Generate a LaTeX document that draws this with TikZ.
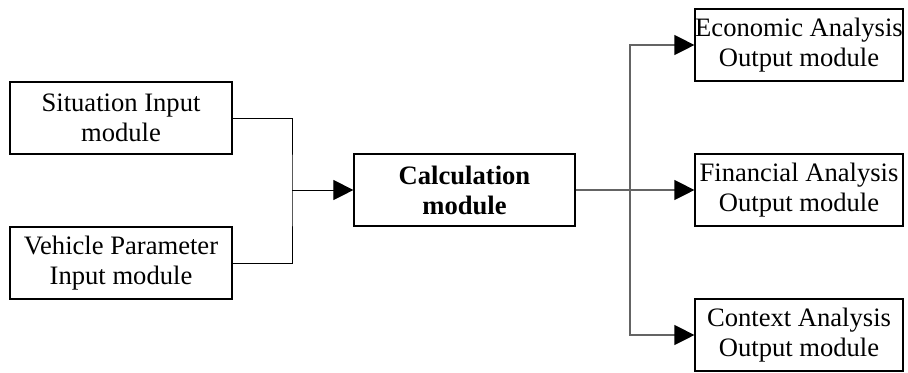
\documentclass[tikz,border=0pt]{standalone}
\usepackage{fontspec}
\setmainfont{Liberation Serif}
\usetikzlibrary{arrows.meta}
\definecolor{linegray}{RGB}{100,100,100}

\begin{document}
\begin{tikzpicture}[x=0.5pt, y=-0.5pt,
  >={Triangle[length=10pt,width=10pt,color=black]},
  module/.style={draw, line width=0.6pt, align=center, minimum width=111pt,
    minimum height=36pt, inner sep=0pt, font=\fontsize{13.3}{15}\selectfont}]
  \useasboundingbox (0,0) rectangle (908,372);

  % Nodes
  % Input modules
  \node[module] (sit) at (121,118) {Situation Input\\module};
  \node[module] (veh) at (121,263) {Vehicle Parameter\\Input module};

  % Calculation module
  \node[module, minimum width=110.5pt, font=\fontsize{13.3}{15}\selectfont\bfseries] (calc) at (464.5,190) {Calculation\\module};

  % Output modules
  \node[module, minimum width=104pt] (eco) at (799,45) {Economic Analysis\\Output module};
  \node[module, minimum width=104pt] (fin) at (799,190) {Financial Analysis\\Output module};
  \node[module, minimum width=104pt] (ctx) at (799,335) {Context Analysis\\Output module};

  % Junctions
  \coordinate (jin) at (292,190);
  \coordinate (jout) at (630,190);

  % Arrows
  \draw[line width=0.5pt] (sit.east) -| (jin) |- (veh.east);
  \draw[->, line width=0.5pt] (jin) -- (calc.west);

  \draw[linegray, line width=0.6pt] (calc.east) -- (jout);
  \draw[->, linegray, line width=0.6pt] (jout) |- (eco.west);
  \draw[->, linegray, line width=0.6pt] (jout) -- (fin.west);
  \draw[->, linegray, line width=0.6pt] (jout) |- (ctx.west);

\end{tikzpicture}
\end{document}
